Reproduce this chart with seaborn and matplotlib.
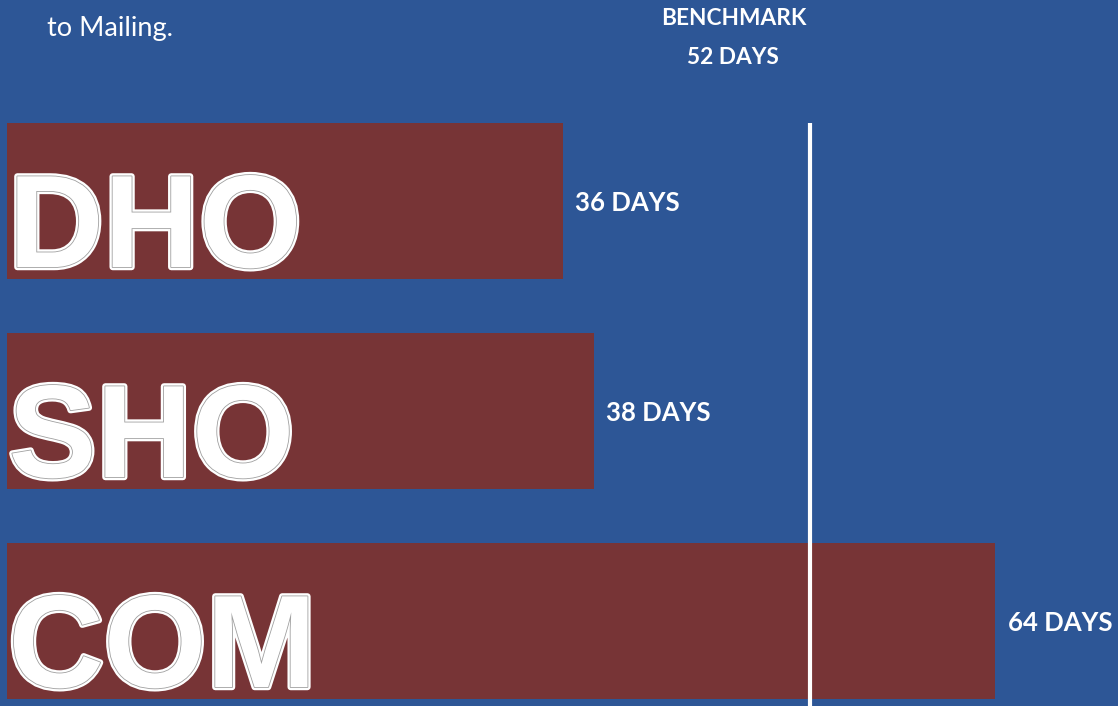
import pandas as pd
import matplotlib.pyplot as plt
import matplotlib.patheffects as pe
import seaborn as sns

categories = ["DHO", "SHO", "COM"]
days = [36, 38, 64]
benchmark = 52
note = "to Mailing."

BLUE = "#2D5696"
RED = "#773436"

sns.set_theme(style="white")
plt.rcParams["font.family"] = ["Lato", "DejaVu Sans"]

df = pd.DataFrame({"cat": categories, "days": days})

fig = plt.figure(figsize=(11.18, 7.06), dpi=100, facecolor=BLUE)
ax = fig.add_axes([0, 0, 1, 1])
ax.set_facecolor(BLUE)

sns.barplot(data=df, x="days", y="cat", orient="h", color=RED,
            saturation=1, width=0.743, linewidth=0, ax=ax)

ax.set_xlim(-0.45, 71.95)
ax.set_ylim(2.405, -0.957)
ax.set_axis_off()

# benchmark line from top of first bar down
ax.vlines(benchmark, -0.371, 2.405, color="white", lw=3, zorder=3)

outline = [pe.Stroke(linewidth=4.5, foreground="white"),
           pe.Stroke(linewidth=1.2, foreground="#a0a0a0"),
           pe.Normal()]

for i, (c, d) in enumerate(zip(categories, days)):
    ax.text(0.1, i + 0.315, c, family="Liberation Sans", weight="bold",
            fontsize=95, color="white", va="baseline", ha="left",
            path_effects=outline, zorder=4)
    ax.text(d + 0.8, i + 0.01, f"{d} DAYS", color="white", weight="bold",
            fontsize=18.5, va="center", ha="left")

ax.text(0.042, 0.959, note, transform=ax.transAxes, color="white",
        fontsize=19.5, va="center", ha="left")
ax.text(0.656, 0.974, "BENCHMARK", transform=ax.transAxes, color="white",
        weight="bold", fontsize=16.3, va="center", ha="center")
ax.text(0.656, 0.919, f"{benchmark} DAYS", transform=ax.transAxes,
        color="white", weight="bold", fontsize=16.3, va="center", ha="center")

plt.savefig("out.png", dpi=100, facecolor=BLUE)
